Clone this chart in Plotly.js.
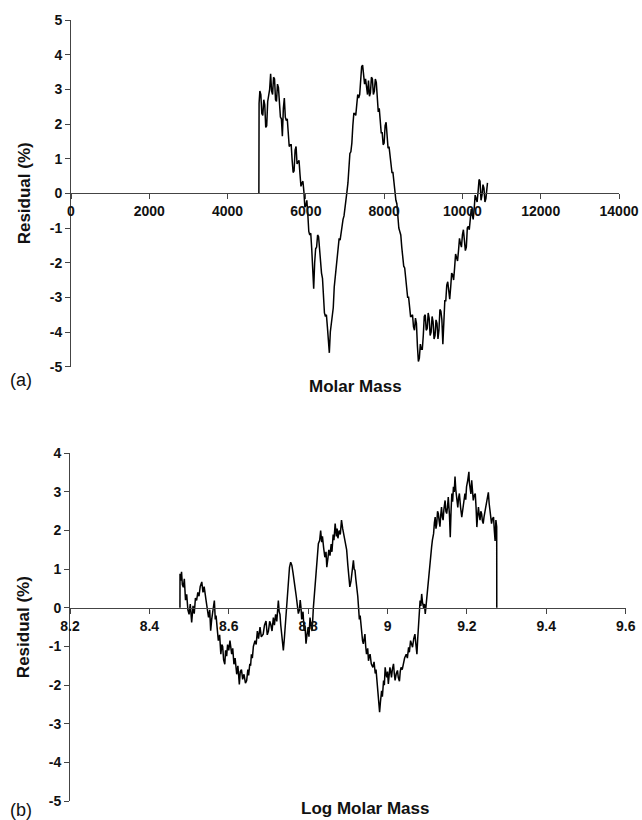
<!DOCTYPE html>
<html>
<head>
<meta charset="utf-8">
<script src="https://cdn.plot.ly/plotly-3.0.1.min.js"></script>
<style>html,body{margin:0;padding:0;background:#fff;}#chart{width:642px;height:820px;}</style>
</head>
<body>
<div id="chart"></div>
<script>
// ---- Panel (a): residual vs molar mass ----
const molarMass = [4800,4805,4825,4850,4875,4900,4925,4950,4975,5000,5025,5050,5075,5100,5125,5150,5175,5200,5225,5250,5275,5300,5325,5350,5375,5400,5425,5450,5475,5500,5525,5550,5575,5600,5625,5650,5675,5700,5725,5750,5775,5800,5825,5850,5875,5900,5925,5950,5975,6000,6025,6050,6075,6100,6125,6150,6175,6200,6225,6250,6275,6300,6325,6350,6375,6400,6425,6450,6475,6500,6525,6550,6575,6600,6625,6650,6675,6700,6725,6750,6775,6800,6825,6850,6875,6900,6925,6950,6975,7000,7025,7050,7075,7100,7125,7150,7175,7200,7225,7250,7275,7300,7325,7350,7375,7400,7425,7450,7475,7500,7525,7550,7575,7600,7625,7650,7675,7700,7725,7750,7775,7800,7825,7850,7875,7900,7925,7950,7975,8000,8025,8050,8075,8100,8125,8150,8175,8200,8225,8250,8275,8300,8325,8350,8375,8400,8425,8450,8475,8500,8525,8550,8575,8600,8625,8650,8675,8700,8725,8750,8775,8800,8825,8850,8875,8900,8925,8950,8975,9000,9025,9050,9075,9100,9125,9150,9175,9200,9225,9250,9275,9300,9325,9350,9375,9400,9425,9450,9475,9500,9525,9550,9575,9600,9625,9650,9675,9700,9725,9750,9775,9800,9825,9850,9875,9900,9925,9950,9975,10000,10025,10050,10075,10100,10125,10150,10175,10200,10225,10250,10275,10300,10325,10350,10375,10400,10425,10450,10475,10500,10525,10550,10575,10600,10620,10640];
const residualA = [0,2.6,2.95,2.85,2.3,2.25,2.7,2.55,1.9,1.95,2.65,2.9,3.0,3.45,2.95,2.85,3.35,3.3,2.7,2.65,3.15,3.05,2.4,2.2,2.15,1.65,2.45,2.75,2.2,2.1,2.15,1.75,1.35,1.4,1.4,0.95,0.6,0.65,1.25,1.35,0.85,0.9,0.95,0.55,0.2,0.3,0.35,0.05,-0.4,-0.35,-0.2,-0.6,-1.1,-1.2,-1.15,-1.6,-2.45,-2.75,-2.0,-1.6,-1.55,-1.2,-1.25,-1.65,-2.15,-2.3,-2.45,-3.0,-3.45,-3.55,-3.5,-3.85,-4.35,-4.6,-4.0,-3.75,-3.65,-3.3,-2.7,-2.4,-2.25,-1.85,-1.45,-1.3,-1.35,-1.15,-0.8,-0.75,-0.65,-0.35,-0.05,0.05,0.3,0.8,1.15,1.2,1.45,1.95,2.3,2.3,2.25,2.55,2.85,2.75,2.85,3.25,3.65,3.7,3.3,3.15,3.3,2.95,2.85,3.25,2.8,2.9,3.35,3.3,2.85,2.95,3.3,3.2,2.55,2.35,2.45,2.15,1.75,1.75,1.4,1.45,1.95,2.05,1.5,1.3,1.35,1.05,0.7,0.6,0.6,0.25,-0.1,-0.2,-0.3,-0.7,-1.0,-1.1,-1.2,-1.55,-1.95,-2.1,-2.15,-2.5,-2.85,-3.0,-3.0,-3.3,-3.55,-3.55,-3.5,-3.85,-3.95,-3.6,-3.75,-4.4,-4.85,-4.75,-4.35,-4.5,-4.5,-4.1,-3.55,-3.5,-3.95,-3.9,-3.45,-3.6,-4.1,-4.0,-3.55,-3.7,-4.2,-4.1,-3.65,-3.75,-4.2,-3.95,-3.35,-3.4,-3.65,-4.35,-3.45,-3.1,-3.1,-2.65,-2.55,-2.9,-3.05,-2.7,-2.3,-2.35,-2.5,-2.15,-1.75,-1.85,-1.95,-1.65,-1.3,-1.45,-1.55,-1.2,-1.05,-1.35,-1.65,-1.55,-1.0,-0.95,-1.05,-0.75,-0.45,-0.6,-0.75,-0.45,-0.05,-0.15,-0.25,0.05,0.4,0.35,-0.2,-0.05,0.25,0.15,-0.25,-0.15,0.2,0.3];

// ---- Panel (b): residual vs log molar mass ----
const logMolarMass = [8.477,8.4772,8.479,8.481,8.483,8.4855,8.488,8.491,8.494,8.497,8.500,8.503,8.5065,8.510,8.513,8.516,8.519,8.522,8.525,8.528,8.532,8.535,8.538,8.5427,8.546,8.549,8.552,8.5544,8.557,8.560,8.5637,8.566,8.568,8.571,8.5737,8.577,8.580,8.5825,8.5846,8.587,8.590,8.592,8.5947,8.597,8.600,8.603,8.6073,8.610,8.613,8.616,8.620,8.623,8.6266,8.629,8.632,8.635,8.6384,8.642,8.6451,8.648,8.650,8.653,8.655,8.657,8.6594,8.662,8.6661,8.669,8.672,8.675,8.6787,8.682,8.6867,8.690,8.6938,8.697,8.700,8.703,8.7056,8.709,8.7123,8.715,8.718,8.721,8.7249,8.727,8.729,8.731,8.7333,8.7375,8.740,8.742,8.744,8.7459,8.748,8.750,8.753,8.756,8.759,8.762,8.7645,8.7669,8.770,8.772,8.7753,8.778,8.780,8.782,8.7837,8.787,8.790,8.792,8.7946,8.797,8.800,8.802,8.8047,8.807,8.810,8.8131,8.816,8.8198,8.823,8.8257,8.829,8.8315,8.834,8.836,8.839,8.842,8.845,8.847,8.850,8.852,8.855,8.858,8.860,8.863,8.865,8.868,8.871,8.873,8.875,8.878,8.881,8.884,8.887,8.890,8.893,8.897,8.900,8.903,8.905,8.908,8.910,8.912,8.914,8.916,8.918,8.920,8.922,8.925,8.927,8.929,8.931,8.933,8.935,8.937,8.939,8.941,8.943,8.945,8.947,8.950,8.952,8.954,8.956,8.959,8.963,8.966,8.969,8.971,8.973,8.975,8.977,8.980,8.982,8.985,8.987,8.990,8.992,8.994,8.996,8.998,9.000,9.002,9.004,9.006,9.008,9.010,9.012,9.015,9.017,9.019,9.022,9.025,9.027,9.030,9.032,9.034,9.037,9.040,9.043,9.047,9.050,9.053,9.055,9.058,9.060,9.063,9.066,9.069,9.071,9.074,9.076,9.078,9.080,9.082,9.084,9.086,9.088,9.091,9.093,9.095,9.097,9.099,9.101,9.103,9.105,9.107,9.109,9.111,9.113,9.116,9.118,9.120,9.122,9.124,9.126,9.128,9.130,9.132,9.134,9.136,9.138,9.140,9.142,9.145,9.147,9.149,9.151,9.153,9.156,9.158,9.160,9.162,9.164,9.166,9.168,9.170,9.172,9.174,9.177,9.179,9.181,9.184,9.187,9.189,9.191,9.193,9.195,9.197,9.199,9.202,9.205,9.206,9.208,9.210,9.212,9.214,9.216,9.218,9.221,9.223,9.225,9.227,9.229,9.231,9.233,9.235,9.237,9.239,9.241,9.243,9.246,9.248,9.250,9.252,9.254,9.256,9.258,9.260,9.262,9.264,9.267,9.269,9.271,9.273,9.275,9.2752];
const residualB = [0,0.88,0.7,0.93,0.6,0.53,0.75,0.2,0.35,-0.05,-0.17,0.1,-0.38,0.05,-0.15,0.25,0.19,0.4,0.3,0.55,0.67,0.4,0.55,0.2,-0.1,-0.25,-0.05,-0.59,-0.3,-0.1,0.19,-0.3,-0.2,-0.55,-0.85,-0.7,-1.2,-0.95,-1.0,-1.35,-1.46,-1.1,-1.25,-0.95,-1.1,-0.85,-1.2,-1.05,-1.46,-1.3,-1.72,-1.5,-1.98,-1.65,-1.6,-1.85,-1.72,-1.95,-1.88,-1.6,-1.75,-1.45,-1.5,-1.2,-1.3,-1.0,-0.85,-0.95,-0.6,-0.8,-0.5,-0.75,-0.68,-0.45,-0.34,-0.7,-0.6,-0.35,-0.42,-0.6,-0.25,-0.45,-0.17,-0.35,0.19,-0.1,-0.17,-0.45,-0.68,-1.1,-0.8,-0.5,-0.1,0.19,0.5,0.88,1.05,1.18,1.1,0.9,0.75,0.53,0.3,0.1,-0.15,-0.05,0.2,0.0,-0.3,-0.1,-0.6,-0.45,-0.93,-0.7,-0.5,-0.75,-0.25,-0.45,-0.6,0.0,0.3,0.88,1.3,1.66,1.75,2.0,1.7,1.85,1.55,1.31,1.45,1.05,1.3,1.5,1.35,1.65,1.45,1.9,1.75,2.18,1.85,2.05,1.8,2.0,1.9,2.27,2.05,1.9,1.75,1.5,1.1,0.8,0.54,0.7,0.85,1.0,1.23,1.0,0.97,0.75,0.6,0.3,0.0,-0.3,-0.2,-0.5,-0.68,-0.85,-0.93,-0.75,-0.68,-1.0,-1.2,-1.05,-1.37,-1.25,-1.2,-1.45,-1.54,-1.4,-1.7,-1.6,-1.9,-2.2,-2.41,-2.7,-2.45,-2.15,-2.3,-1.88,-2.0,-1.54,-1.7,-1.8,-1.65,-1.97,-1.75,-1.54,-1.65,-1.8,-1.6,-1.45,-1.7,-1.88,-1.7,-1.62,-1.8,-1.9,-1.65,-1.54,-1.6,-1.45,-1.3,-1.2,-1.3,-1.02,-1.15,-0.85,-0.95,-1.02,-0.8,-0.68,-0.9,-1.2,-0.8,-0.5,-0.1,0.19,0.05,0.36,0.15,0.0,0.1,-0.16,0.05,0.27,0.55,0.88,1.05,1.23,1.4,1.57,1.75,1.92,2.2,2.35,2.05,2.18,2.5,2.44,2.25,2.1,2.4,2.61,2.35,2.27,2.55,2.78,2.5,2.44,2.6,2.87,2.4,1.83,2.5,2.96,2.75,3.13,3.0,3.4,3.05,2.78,2.6,2.85,2.96,2.6,2.35,2.5,2.7,2.85,2.96,2.8,3.13,3.3,3.52,3.25,3.13,2.95,3.3,3.0,2.78,2.9,2.96,2.6,2.09,2.4,2.61,2.4,2.27,2.5,2.44,2.25,2.18,2.35,2.53,2.65,2.78,2.85,2.99,2.7,2.53,2.35,2.18,2.3,2.35,2.0,1.73,2.27,2.1,0];

// ---- Tick labels ----
const tickValsA = [0,2000,4000,6000,8000,10000,12000,14000];
const tickTextA = ['0','2000','4000','6000','8000','10000','12000','14000'];
const yTicksA = [-5,-4,-3,-2,-1,0,1,2,3,4,5];
const tickValsB = [8.2,8.4,8.6,8.8,9.0,9.2,9.4,9.6];
const tickTextB = ['8.2','8.4','8.6','8.8','9','9.2','9.4','9.6'];
const yTicksB = [-5,-4,-3,-2,-1,0,1,2,3,4];

const W = 642, H = 820;
const FONT = 'Liberation Sans, Arial, Helvetica, sans-serif';
const tickFont = {family: FONT, size: 14, color: '#111', weight: 700};

// plot-area geometry (pixels)
const yDomA = [(H - 366.7) / H, (H - 20) / H];
const yDomB = [(H - 801) / H, (H - 453.3) / H];
const yRangeA = [-5, 5];
const yRangeB = [-5, 4];
const zeroPos = (dom, rng) => dom[0] + (0 - rng[0]) / (rng[1] - rng[0]) * (dom[1] - dom[0]);

const lineStyle = {color: '#000', width: 1.5};

const traces = [
  {x: molarMass, y: residualA, type: 'scatter', mode: 'lines', line: lineStyle, xaxis: 'x', yaxis: 'y', hoverinfo: 'skip'},
  {x: logMolarMass, y: residualB, type: 'scatter', mode: 'lines', line: lineStyle, xaxis: 'x2', yaxis: 'y2', hoverinfo: 'skip'}
];

const xCommon = {
  showgrid: false, zeroline: false, showline: true, linecolor: '#444', linewidth: 1,
  ticks: 'outside', ticklen: 5, tickwidth: 1, tickcolor: '#444',
  tickfont: tickFont, tickmode: 'array', anchor: 'free', side: 'bottom', fixedrange: true
};
const yCommon = {
  showgrid: false, zeroline: false, showline: true, linecolor: '#444', linewidth: 1,
  ticks: 'outside', ticklen: 5, tickwidth: 1, tickcolor: '#444',
  tickfont: tickFont, tickmode: 'array', fixedrange: true,
  title: {text: 'Residual (%)', font: {family: FONT, size: 17, color: '#111', weight: 700}, standoff: 14}
};

const layout = {
  width: W, height: H,
  margin: {l: 0, r: 0, t: 0, b: 0},
  paper_bgcolor: '#fff', plot_bgcolor: '#fff',
  showlegend: false,
  xaxis: Object.assign({}, xCommon, {domain: [71 / W, 619 / W], range: [0, 14000],
    tickvals: tickValsA, ticktext: tickTextA, position: zeroPos(yDomA, yRangeA)}),
  yaxis: Object.assign({}, yCommon, {domain: yDomA, range: yRangeA, anchor: 'x',
    tickvals: yTicksA, ticktext: yTicksA.map(String)}),
  xaxis2: Object.assign({}, xCommon, {domain: [70 / W, 625.7 / W], range: [8.2, 9.6],
    tickvals: tickValsB, ticktext: tickTextB, position: zeroPos(yDomB, yRangeB)}),
  yaxis2: Object.assign({}, yCommon, {domain: yDomB, range: yRangeB, anchor: 'x2',
    tickvals: yTicksB, ticktext: yTicksB.map(String)}),
  annotations: [
    {text: 'Molar Mass', xref: 'paper', yref: 'paper', x: 356 / W, y: (H - 386) / H,
     showarrow: false, xanchor: 'center', yanchor: 'middle',
     font: {family: FONT, size: 17, color: '#111', weight: 700}},
    {text: 'Log Molar Mass', xref: 'paper', yref: 'paper', x: 365 / W, y: (H - 808) / H,
     showarrow: false, xanchor: 'center', yanchor: 'middle',
     font: {family: FONT, size: 17, color: '#111', weight: 700}},
    {text: '(a)', xref: 'paper', yref: 'paper', x: 21 / W, y: (H - 380) / H,
     showarrow: false, xanchor: 'center', yanchor: 'middle',
     font: {family: FONT, size: 18, color: '#111'}},
    {text: '(b)', xref: 'paper', yref: 'paper', x: 21 / W, y: (H - 810) / H,
     showarrow: false, xanchor: 'center', yanchor: 'middle',
     font: {family: FONT, size: 18, color: '#111'}}
  ]
};

Plotly.newPlot('chart', traces, layout, {staticPlot: true, displayModeBar: false});
</script>
</body>
</html>
